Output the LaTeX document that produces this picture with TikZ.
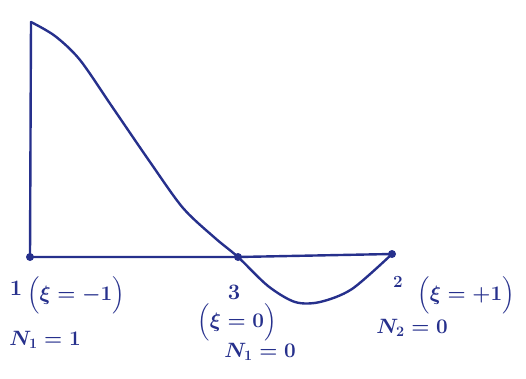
\documentclass[tikz,border=0pt]{standalone}
\usepackage{amsmath}
\usepackage{tikz}
\definecolor{ink}{RGB}{38,48,140}
\begin{document}
\begin{tikzpicture}[x=1pt,y=-1pt,
  pen/.style={draw=ink,line width=2.4pt,line cap=round,line join=round},
  dot/.style={circle,fill=ink,inner sep=0pt,minimum size=8pt},
  lbl/.style={text=ink,font=\fontsize{22}{26}\selectfont\boldmath\bfseries,inner sep=0pt}]
\useasboundingbox (0,0) rectangle (526,379);
\node[dot] (n1) at (30,257) {};
\node[dot] (n3) at (238,257) {};
\node[dot] (n2) at (392,254) {};
\coordinate (top) at (31,22);
\draw[pen] (n1.center) -- (n3.center) -- (n2.center);
\draw[pen] (n1.center) -- (top);
\draw[pen] plot[smooth,tension=0.5] coordinates {(31,22) (55,36) (80,60) (113,108) (150,162) (183,208) (215,238) (238,257) (268,286) (295,302) (320,302) (352,289) (392,254)};
\node[lbl] (l1) at (16,288) {1};
\node[lbl] (x1) at (76,295) {$\Bigl(\xi=-1\Bigr)$};
\node[lbl] (N1a) at (45,340) {$N_1=1$};
\node[lbl] (l3) at (234,292) {3};
\node[lbl] (x3) at (237,322) {$\Bigl(\xi=0\Bigr)$};
\node[lbl] (N1b) at (260,352) {$N_1=0$};
\node[lbl] (l2) at (398,282) {\fontsize{17}{20}\selectfont 2};
\node[lbl] (x2) at (466,295) {$\Bigl(\xi=+1\Bigr)$};
\node[lbl] (N2) at (412,328) {$N_2=0$};
\end{tikzpicture}
\end{document}
